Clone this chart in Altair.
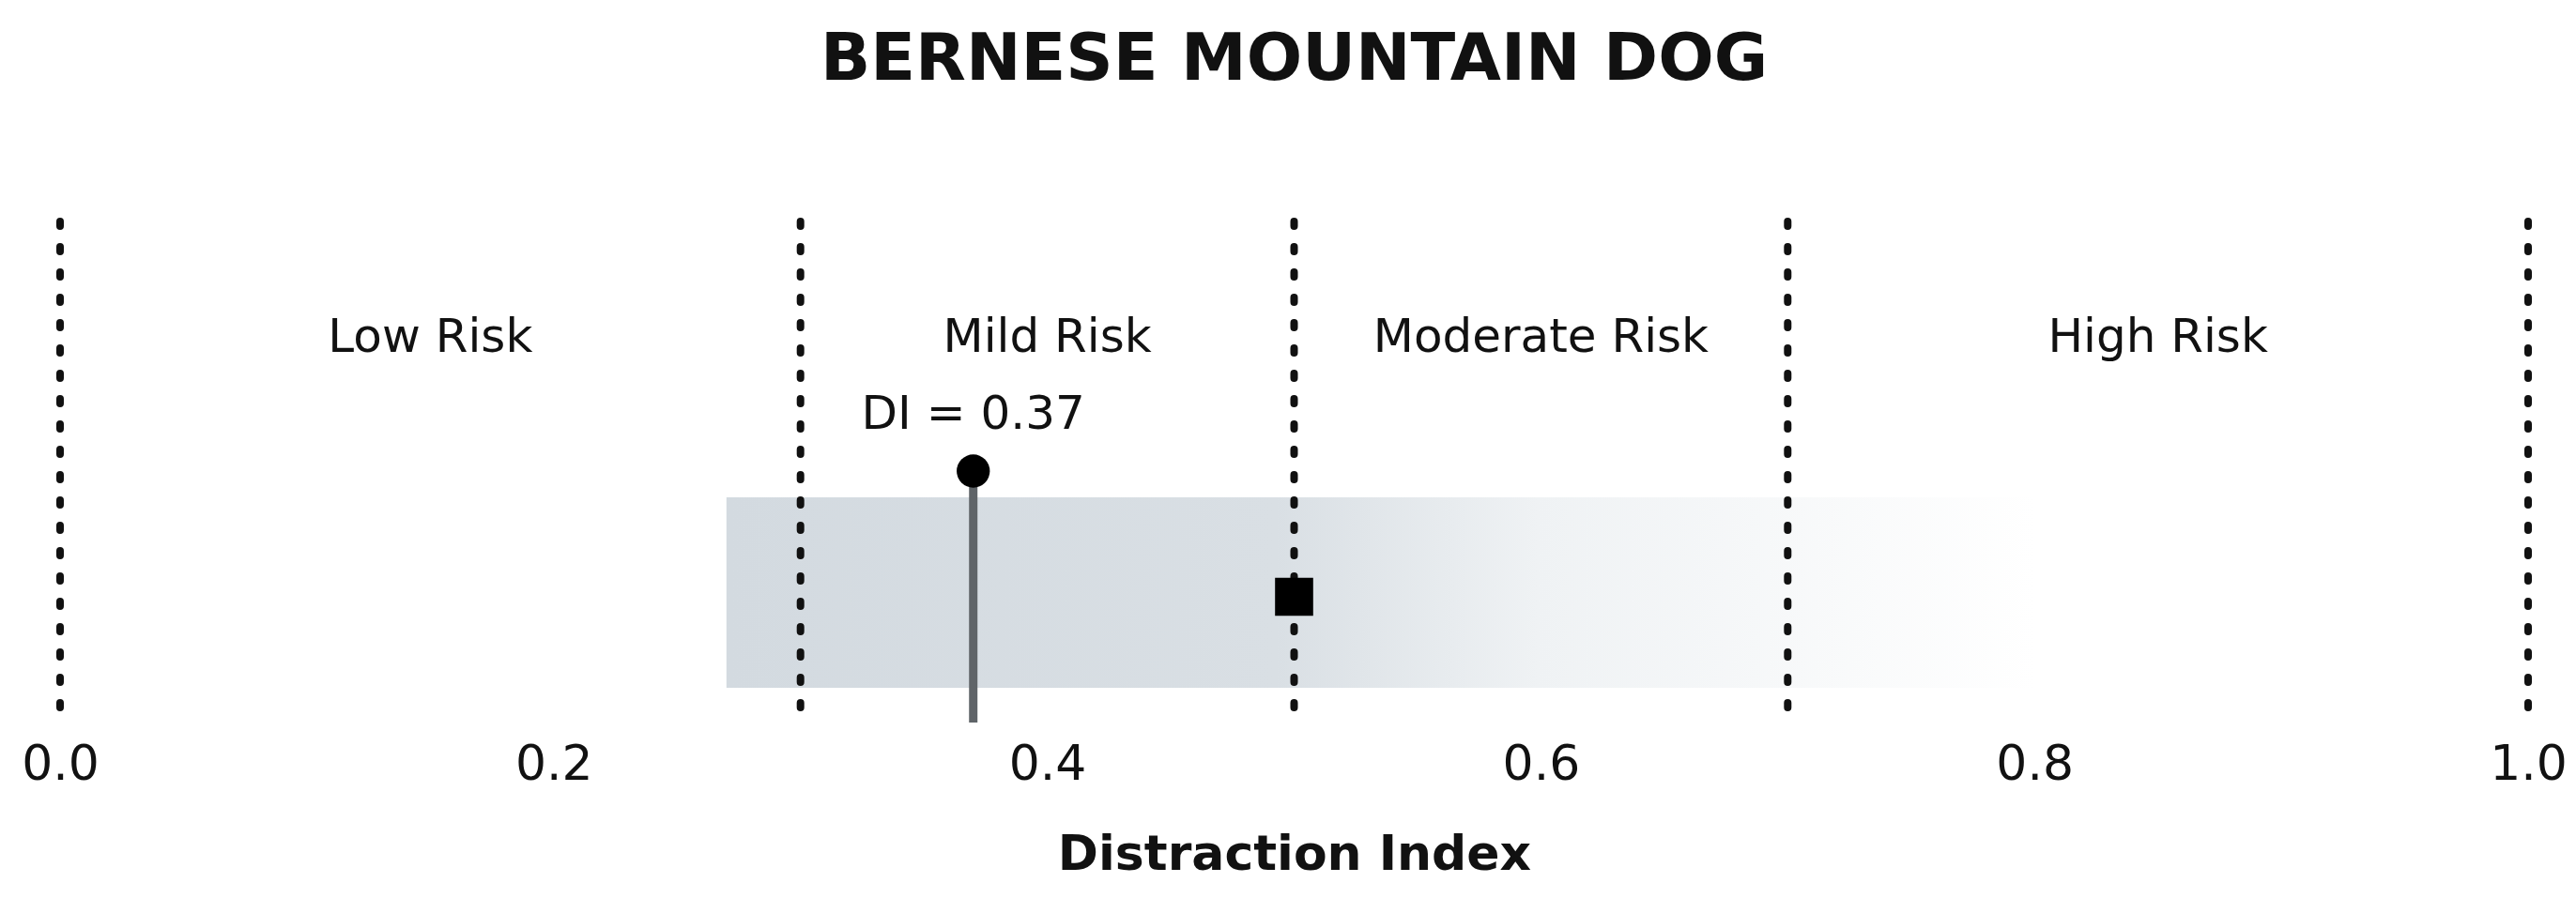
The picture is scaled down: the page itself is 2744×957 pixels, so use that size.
import altair as alt
import pandas as pd

# ---- data ----
zone_bounds = [0.0, 0.3, 0.5, 0.7, 1.0]
zone_names = ["Low Risk", "Mild Risk", "Moderate Risk", "High Risk"]
zone_mids = [0.15, 0.4, 0.6, 0.85]
di_value = 0.37
di_label = "DI = 0.37"
square_value = 0.5
spread_low = 0.27
spread_high = 0.80
baseline_end = 0.80
tick_values = [0.0, 0.2, 0.4, 0.6, 0.8, 1.0]

FONT = "DejaVu Sans"
W, H = 2629, 534

xscale = alt.Scale(domain=[0, 1], nice=False)

bounds_df = pd.DataFrame({"v": zone_bounds})
zones_df = pd.DataFrame({"mid": zone_mids, "name": zone_names})
di_df = pd.DataFrame({"v": [di_value], "label": [di_label]})
sq_df = pd.DataFrame({"v": [square_value]})
spread_df = pd.DataFrame({"lo": [spread_low], "hi": [spread_high]})
base_df = pd.DataFrame({"lo": [0.0], "hi": [baseline_end]})

x_axis = alt.Axis(values=tick_values, format=".1f", grid=False, domain=False,
                  ticks=False, tickSize=0, labelFontSize=52, labelFont=FONT,
                  labelColor="#111111", labelPadding=19, labelFlush=False,
                  labelOverlap=False,
                  title="Distraction Index", titleFont=FONT, titleFontSize=52,
                  titleFontWeight="bold", titleColor="#111111", titlePadding=45)


def X(field):
    return alt.X(field, type="quantitative", scale=xscale, axis=x_axis,
                 title="Distraction Index")


spread = alt.Chart(spread_df).mark_rect(
    fill=alt.Gradient(
        gradient="linear", x1=0, x2=1, y1=0, y2=0,
        stops=[alt.GradientStop(color="#d3dae0", offset=0),
               alt.GradientStop(color="#d9dfe4", offset=0.42),
               alt.GradientStop(color="#eff2f4", offset=0.62),
               alt.GradientStop(color="#ffffff", offset=1)])
).encode(
    x=X("lo"),
    x2="hi:Q",
    y=alt.value(294), y2=alt.value(497),
)

baseline = alt.Chart(base_df).mark_rule(
    stroke=alt.Gradient(
        gradient="linear", x1=0, x2=1, y1=0, y2=0,
        stops=[alt.GradientStop(color="#d2d5d8", offset=0),
               alt.GradientStop(color="#a9aeb2", offset=0.4),
               alt.GradientStop(color="#b9bdc1", offset=0.75),
               alt.GradientStop(color="#ffffff", offset=1)]),
    strokeWidth=4,
).encode(x=X("lo"), x2="hi:Q", y=alt.value(492))

dotted = alt.Chart(bounds_df).mark_rule(
    color="#111111", strokeWidth=8, strokeDash=[5, 22], strokeCap="round"
).encode(x=X("v"), y=alt.value(0), y2=alt.value(H))

stem = alt.Chart(di_df).mark_rule(color="#5f6468", strokeWidth=9).encode(
    x=X("v"), y=alt.value(266), y2=alt.value(H))

dot = alt.Chart(di_df).mark_point(shape="circle", filled=True, color="#000000",
                                  opacity=1, size=1250).encode(
    x=X("v"), y=alt.value(266))

square = alt.Chart(sq_df).mark_point(shape="square", filled=True, color="#000000",
                                     opacity=1, size=1650).encode(
    x=X("v"), y=alt.value(400))

zone_text = alt.Chart(zones_df).mark_text(
    font=FONT, fontSize=50, color="#111111", baseline="alphabetic", align="center"
).encode(x=X("mid"), y=alt.value(139), text="name:N")

di_text = alt.Chart(di_df).mark_text(
    font=FONT, fontSize=50, color="#111111", baseline="alphabetic", align="center"
).encode(x=X("v"), y=alt.value(221), text="label:N")

chart = alt.layer(spread, baseline, dotted, stem, dot, square, zone_text, di_text).properties(
    width=W, height=H,
    background="#ffffff",
    title=alt.TitleParams("BERNESE MOUNTAIN DOG", font=FONT, fontSize=70,
                          fontWeight="bold", color="#111111", anchor="middle",
                          baseline="alphabetic", offset=77),
    autosize=alt.AutoSizeParams(type="none"),
    padding={"left": 56, "top": 228, "right": 43, "bottom": 179},
).configure_view(strokeOpacity=0, strokeWidth=0)

chart.save("out.html", embed_options={"renderer": "svg", "actions": False})
